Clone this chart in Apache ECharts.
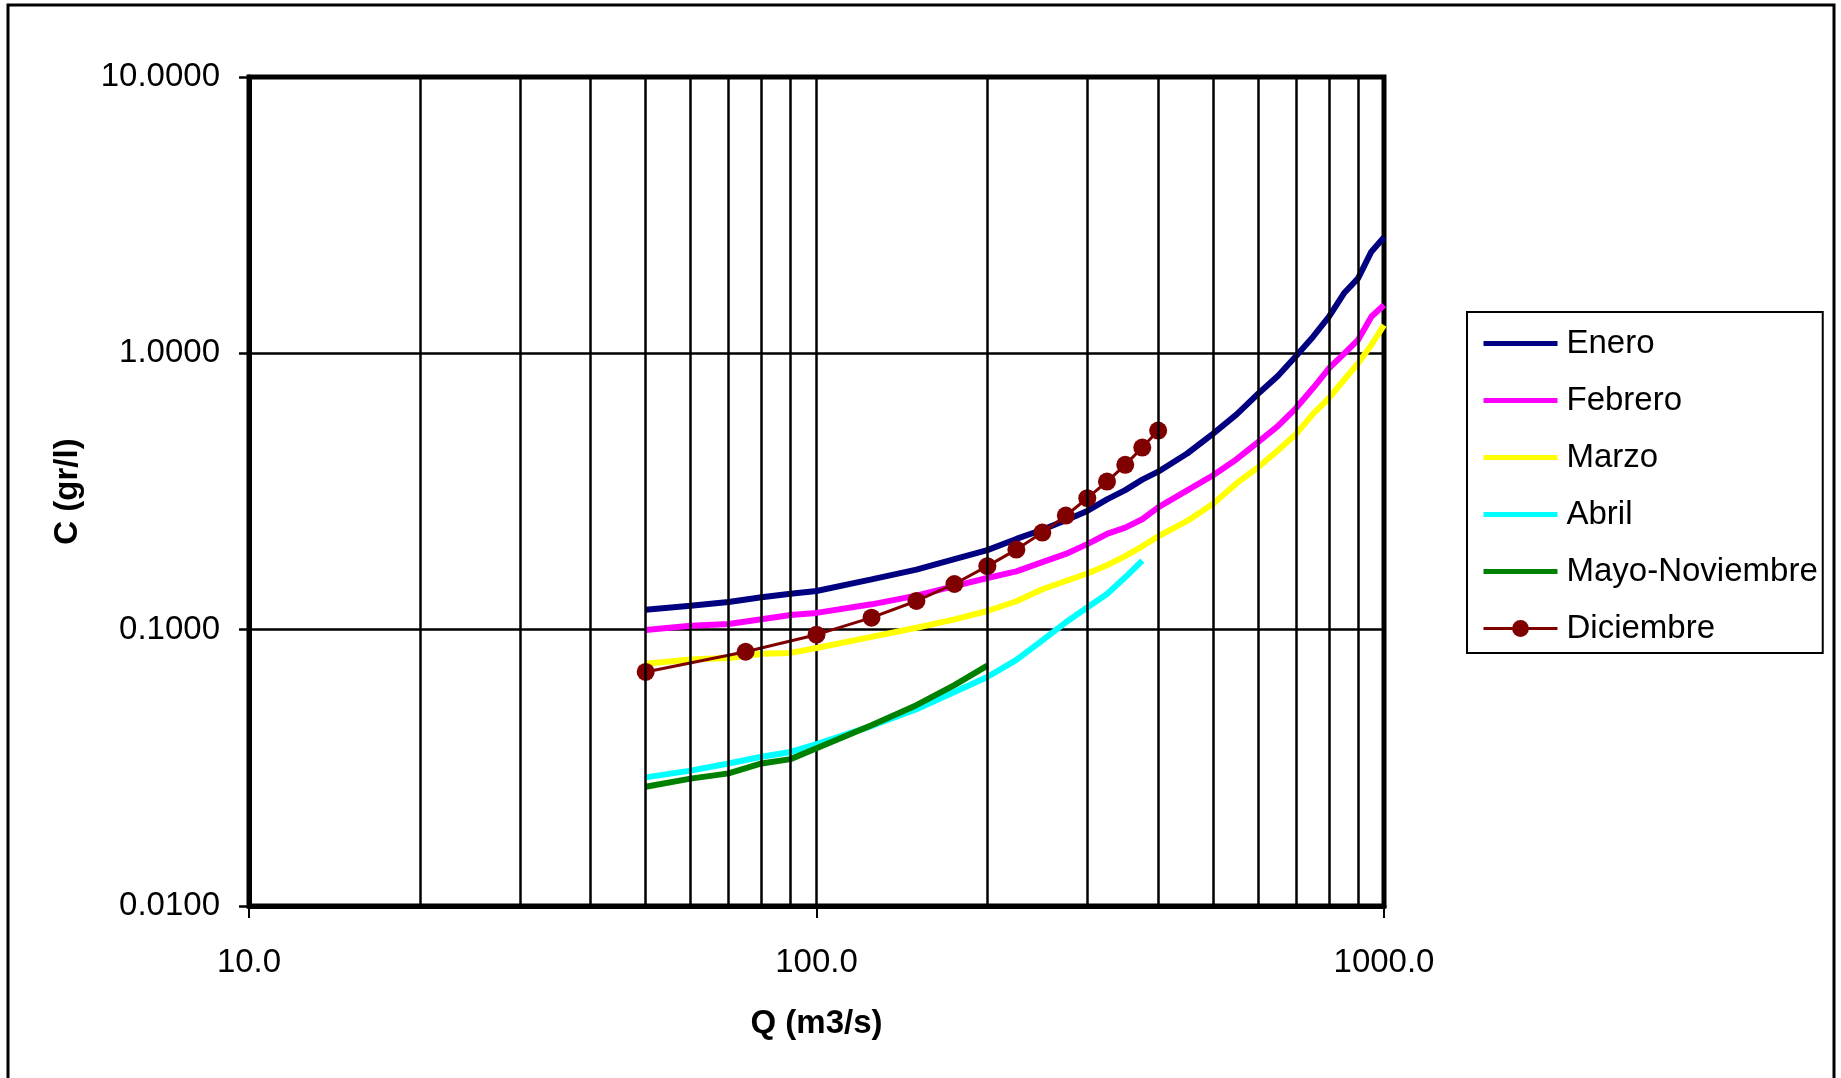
<!DOCTYPE html>
<html>
<head>
<meta charset="utf-8">
<title>C vs Q</title>
<script src="https://cdn.jsdelivr.net/npm/echarts@6/dist/echarts.min.js"></script>
<style>
  html, body { margin: 0; padding: 0; background: #ffffff; }
  #chart { width: 1841px; height: 1078px; }
</style>
</head>
<body>
<div id="chart"></div>
<script>
// Discharge values (m3/s) shared by the monthly curves
const qMonthly = [50, 60, 70, 80, 90, 100, 125, 150, 175, 200, 225, 250, 275, 300, 325, 350, 375, 400,
                  450, 500, 550, 600, 650, 700, 750, 800, 850, 900, 950, 1000];

// Concentration (gr/l) per month
const enero = [0.118, 0.122, 0.126, 0.131, 0.135, 0.138, 0.152, 0.165, 0.180, 0.194, 0.213, 0.230, 0.249, 0.269,
               0.296, 0.320, 0.349, 0.373, 0.434, 0.512, 0.601, 0.714, 0.828, 0.978, 1.149, 1.357, 1.649, 1.868,
               2.333, 2.630];
const febrero = [0.0997, 0.1034, 0.1048, 0.109, 0.113, 0.115, 0.1235, 0.1328, 0.1437, 0.1538, 0.1625, 0.1755,
                 0.188, 0.204, 0.222, 0.234, 0.251, 0.277, 0.319, 0.362, 0.414, 0.477, 0.545, 0.634, 0.749, 0.883,
                 0.995, 1.118, 1.357, 1.496];
const marzo = [0.0753, 0.078, 0.079, 0.0818, 0.0824, 0.0858, 0.0942, 0.1016, 0.109, 0.1168, 0.1267, 0.140, 0.150,
               0.1597, 0.171, 0.1845, 0.2003, 0.2175, 0.2475, 0.2855, 0.339, 0.387, 0.445, 0.511, 0.604, 0.689,
               0.8007, 0.920, 1.072, 1.266];

const qAbril = [50, 60, 70, 80, 90, 100, 125, 150, 175, 200, 225, 250, 275, 300, 325, 350, 375];
const abril = [0.0292, 0.0309, 0.0328, 0.0347, 0.0361, 0.0385, 0.0448, 0.0515, 0.0595, 0.0674, 0.0777, 0.0915,
               0.1063, 0.1202, 0.1347, 0.1547, 0.1778];

const qMayoNov = [50, 60, 70, 80, 90, 100, 125, 150, 175, 200];
const mayoNov = [0.027, 0.0289, 0.0302, 0.0328, 0.034, 0.0372, 0.0451, 0.0533, 0.063, 0.0741];

const qDiciembre = [50, 75, 100, 125, 150, 175, 200, 225, 250, 275, 300, 325, 350, 375, 400];
const diciembre = [0.0703, 0.0832, 0.0959, 0.1105, 0.127, 0.1463, 0.1698, 0.1949, 0.2245, 0.2587, 0.299, 0.3435,
                   0.3948, 0.4562, 0.5256];

// Intermediate vertical grid lines of the logarithmic Q axis
const qGridLines = [20, 30, 40, 50, 60, 70, 80, 90, 200, 300, 400, 500, 600, 700, 800, 900];

const monthNames = ['Enero', 'Febrero', 'Marzo', 'Abril', 'Mayo-Noviembre'];
const markedName = 'Diciembre';

function pairs(xs, ys) {
  return xs.map((x, i) => [x, ys[i]]);
}

const FONT = "'Liberation Sans', Arial, sans-serif";
const CURVE_WIDTH = 6;

function monthLine(name, xs, ys, color) {
  return {
    name: name,
    type: 'line',
    data: pairs(xs, ys),
    symbol: 'none',
    smooth: false,
    lineStyle: { color: color, width: CURVE_WIDTH },
    itemStyle: { color: color },
    z: 3
  };
}

// Legend entries: plain bars for the monthly curves, line + dot for December
const legendData = monthNames.map(n => ({ name: n, icon: 'path://M0,0H74V5H0Z' }))
  .concat([{ name: markedName, lineStyle: { width: 3 } }]);

const chart = echarts.init(document.getElementById('chart'), null, { renderer: 'canvas' });

chart.setOption({
  animation: false,
  backgroundColor: '#ffffff',
  textStyle: { fontFamily: FONT },
  graphic: [{
    type: 'rect',
    shape: { x: 8, y: 5, width: 1826, height: 1100 },
    style: { fill: 'none', stroke: '#000000', lineWidth: 3 },
    silent: true,
    z: 0
  }],
  grid: {
    left: 249,
    top: 77,
    width: 1135,
    height: 829,
    show: true,
    borderColor: '#000000',
    borderWidth: 5,
    backgroundColor: 'transparent',
    outerBoundsMode: 'none'
  },
  legend: {
    data: legendData,
    orient: 'vertical',
    left: 1467,
    top: 312,
    padding: [15, 5, 8, 15],
    itemGap: 24,
    itemWidth: 74,
    itemHeight: 21,
    symbolKeepAspect: true,
    borderColor: '#000000',
    borderWidth: 2,
    backgroundColor: '#ffffff',
    textStyle: { fontFamily: FONT, fontSize: 33, color: '#000000', lineHeight: 33, padding: [0, 0, 0, 4] }
  },
  xAxis: {
    type: 'log',
    logBase: 10,
    min: 10,
    max: 1000,
    name: 'Q (m3/s)',
    nameLocation: 'middle',
    nameGap: 101,
    nameTextStyle: { fontFamily: FONT, fontSize: 33, fontWeight: 'bold', color: '#000000' },
    axisLine: { show: true, lineStyle: { color: '#000000', width: 5 } },
    axisTick: { show: true, inside: false, length: 12, lineStyle: { color: '#000000', width: 2 } },
    axisLabel: {
      fontFamily: FONT, fontSize: 33, color: '#000000', margin: 40,
      formatter: v => Number(v).toFixed(1)
    },
    splitLine: { show: true, lineStyle: { color: '#000000', width: 2.5 } },
    minorTick: { show: false },
    minorSplitLine: { show: false }
  },
  yAxis: {
    type: 'log',
    logBase: 10,
    min: 0.01,
    max: 10,
    name: 'C (gr/l)',
    nameLocation: 'middle',
    nameGap: 165,
    nameTextStyle: { fontFamily: FONT, fontSize: 33, fontWeight: 'bold', color: '#000000' },
    axisLine: { show: true, lineStyle: { color: '#000000', width: 5 } },
    axisTick: { show: true, inside: false, length: 10, lineStyle: { color: '#000000', width: 2.5 } },
    axisLabel: {
      fontFamily: FONT, fontSize: 33, color: '#000000', margin: 29,
      formatter: v => Number(v).toFixed(4)
    },
    splitLine: { show: true, lineStyle: { color: '#000000', width: 2.5 } }
  },
  series: [
    {
      // carrier for the intermediate Q grid lines
      name: 'grid',
      type: 'line',
      data: [],
      silent: true,
      z: 1,
      markLine: {
        silent: true,
        symbol: ['none', 'none'],
        label: { show: false },
        lineStyle: { color: '#000000', width: 2.5, type: 'solid' },
        emphasis: { disabled: true },
        animation: false,
        data: qGridLines.map(q => ({ xAxis: q }))
      }
    },
    monthLine('Enero', qMonthly, enero, '#000080'),
    monthLine('Febrero', qMonthly, febrero, '#FF00FF'),
    monthLine('Marzo', qMonthly, marzo, '#FFFF00'),
    monthLine('Abril', qAbril, abril, '#00FFFF'),
    monthLine('Mayo-Noviembre', qMayoNov, mayoNov, '#008000'),
    {
      name: markedName,
      type: 'line',
      data: pairs(qDiciembre, diciembre),
      symbol: 'circle',
      symbolSize: 18,
      showSymbol: true,
      smooth: false,
      lineStyle: { color: '#800000', width: 3 },
      itemStyle: { color: '#800000' },
      z: 4
    }
  ]
});
</script>
</body>
</html>
